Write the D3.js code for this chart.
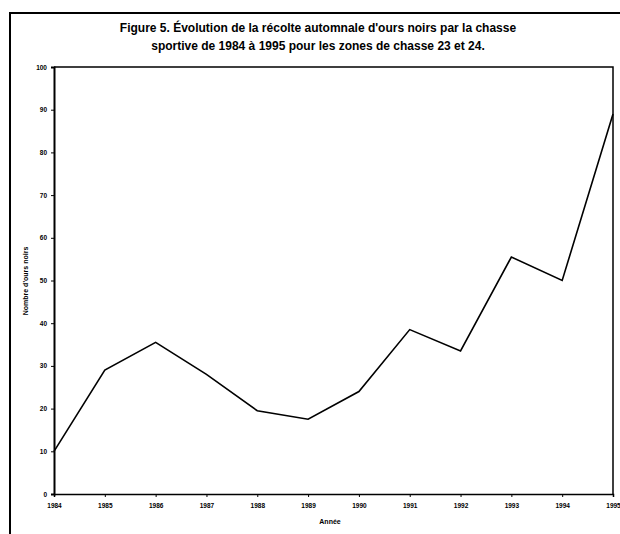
<!DOCTYPE html>
<html><head><meta charset="utf-8">
<script src="https://cdn.jsdelivr.net/npm/d3@7"></script>
<style>body{margin:0;background:#fff}svg{display:block}</style>
</head><body>
<svg id="c" width="620" height="534"></svg>
<script>
const years = [1984,1985,1986,1987,1988,1989,1990,1991,1992,1993,1994,1995];
const harvest = [10,29,35.5,28,19.5,17.5,24,38.5,33.5,55.5,50,89];
const yTicks = [0,10,20,30,40,50,60,70,80,90,100];
const titleLines = ["Figure 5. Évolution de la récolte automnale d'ours noirs par la chasse",
                    "sportive de 1984 à 1995 pour les zones de chasse 23 et 24."];
const yLabel = "Nombre d'ours noirs";
const xLabel = "Année";

const svg = d3.select("#c");
const font = "'Liberation Sans', Arial, sans-serif";
const L = 54, R = 613, T = 67, B = 494;
const x = d3.scalePoint().domain(years).range([L, R]);
const y = d3.scaleLinear().domain([0, 100]).range([B, T]);

// outer border
svg.append("path").attr("d", `M10,534 V13 H620`).attr("fill","none").attr("stroke","#000").attr("stroke-width",2);

// title
svg.append("g").selectAll("text").data(titleLines).join("text")
  .attr("x", 318).attr("y", (d,i)=>32 + i*18)
  .attr("text-anchor","middle").attr("font-family",font).attr("font-weight","bold")
  .attr("font-size", 12).text(d=>d);

// plot frame top/right
svg.append("path").attr("d", `M${L},${T} H${R} V${B}`).attr("fill","none").attr("stroke","#000").attr("stroke-width",1.5);

// y axis
const ya = svg.append("g").attr("transform",`translate(${L},0)`)
  .call(d3.axisLeft(y).tickValues(yTicks).tickSize(3).tickPadding(4).tickFormat(d3.format("d")));
ya.select(".domain").attr("stroke-width",2);
ya.selectAll("text").attr("font-family",font).attr("font-weight","bold").attr("font-size",6.5);

// x axis
const xa = svg.append("g").attr("transform",`translate(0,${B})`)
  .call(d3.axisBottom(x).tickSize(3).tickPadding(6).tickFormat(d=>String(d)));
xa.select(".domain").attr("stroke-width",1.5);
xa.selectAll("text").attr("font-family",font).attr("font-weight","bold").attr("font-size",6.5);

// axis labels
svg.append("text").attr("transform","translate(28,281) rotate(-90)")
  .attr("text-anchor","middle").attr("font-family",font).attr("font-weight","bold").attr("font-size",7).text(yLabel);
svg.append("text").attr("x",330).attr("y",524)
  .attr("text-anchor","middle").attr("font-family",font).attr("font-weight","bold").attr("font-size",7).text(xLabel);

// line
const line = d3.line().x((d,i)=>x(years[i])).y(d=>y(d));
svg.append("path").datum(harvest).attr("d", line).attr("fill","none").attr("stroke","#000").attr("stroke-width",1.6);
</script>
</body></html>
